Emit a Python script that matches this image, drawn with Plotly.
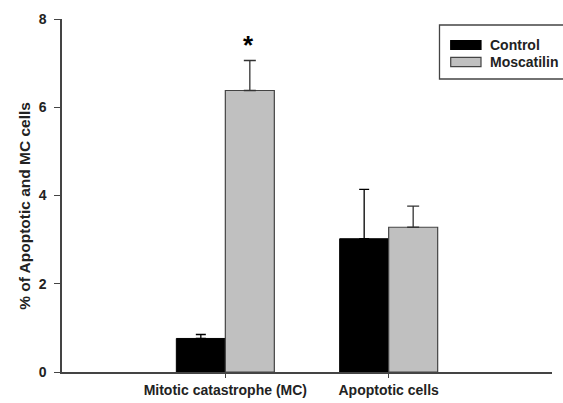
import plotly.graph_objects as go

categories = ["Mitotic catastrophe (MC)", "Apoptotic cells"]
cat_pos = [1, 2]
series_names = ["Control", "Moscatilin"]
control = [0.76, 3.02]
control_err = [0.09, 1.12]
moscatilin = [6.38, 3.28]
moscatilin_err = [0.68, 0.48]
y_ticks = [0, 2, 4, 6, 8]

fills = ["black", "#c0c0c0"]
edges = ["black", "#444444"]

fig = go.Figure()
fig.add_trace(go.Bar(
    x=cat_pos, y=control, name=series_names[0], width=0.3, offset=-0.3,
    marker=dict(color=fills[0], line=dict(color=edges[0], width=1)),
    error_y=dict(type="data", array=control_err, arrayminus=[0, 0], symmetric=False,
                 color="black", thickness=1.3, width=5),
))
fig.add_trace(go.Bar(
    x=cat_pos, y=moscatilin, name=series_names[1], width=0.3, offset=0,
    marker=dict(color=fills[1], line=dict(color=edges[1], width=1.2)),
    error_y=dict(type="data", array=moscatilin_err, arrayminus=[0, 0], symmetric=False,
                 color="#333333", thickness=1.3, width=6),
))

fig.add_annotation(x=1.14, y=7.42, text="<b>*</b>", showarrow=False,
                   font=dict(size=26, color="black", family="Liberation Sans"))

# y axis title
fig.add_annotation(xref="paper", yref="paper", x=-0.078, y=0.47, textangle=-90,
                   text="<b>% of Apoptotic and MC cells</b>", showarrow=False,
                   xanchor="center", yanchor="middle",
                   font=dict(size=15.5, color="#222222", family="Liberation Sans"))

# legend box (drawn to match the wide swatches of the original)
fig.add_shape(type="rect", xref="paper", yref="paper", x0=0.7704, x1=1.04, y0=0.830, y1=0.983,
              line=dict(color="#444444", width=1.3), fillcolor="white", layer="above")
sw_y = [(0.9142, 0.9385), (0.8649, 0.8915)]
txt_y = [0.926, 0.878]
for i, nm in enumerate(series_names):
    fig.add_shape(type="rect", xref="paper", yref="paper", x0=0.7933, x1=0.8551,
                  y0=sw_y[i][0], y1=sw_y[i][1], fillcolor=fills[i],
                  line=dict(color=edges[i], width=1.2), layer="above")
    fig.add_annotation(xref="paper", yref="paper", x=0.870, y=txt_y[i], text=f"<b>{nm}</b>",
                       xanchor="left", yanchor="middle", showarrow=False,
                       font=dict(size=14, color="#222222", family="Liberation Sans"))

fig.update_layout(
    width=563, height=403,
    margin=dict(l=62, r=11, t=19, b=31, autoexpand=False),
    plot_bgcolor="white", paper_bgcolor="white",
    barmode="overlay",
    font=dict(family="Liberation Sans", color="#222222"),
    showlegend=False,
    xaxis=dict(
        range=[0, 3], tickvals=cat_pos, ticktext=[f"<b>{c}</b>" for c in categories],
        showline=True, linecolor="#444444", linewidth=1.5,
        ticks="outside", ticklen=4, tickcolor="#444444", tickwidth=1.2,
        showgrid=False, zeroline=False, automargin=False,
        tickfont=dict(size=14, color="#222222"),
    ),
    yaxis=dict(
        range=[0, 8], tickvals=y_ticks, ticktext=[f"<b>{v}</b>" for v in y_ticks],
        showline=True, linecolor="#444444", linewidth=1.5,
        ticks="outside", ticklen=6, tickcolor="#444444", tickwidth=1.2,
        ticklabelstandoff=5,
        showgrid=False, zeroline=False, automargin=False,
        tickfont=dict(size=14, color="#222222"),
    ),
)

fig.write_html("out.html", config={"displayModeBar": False},
               post_script="document.body.style.margin='0px';")
